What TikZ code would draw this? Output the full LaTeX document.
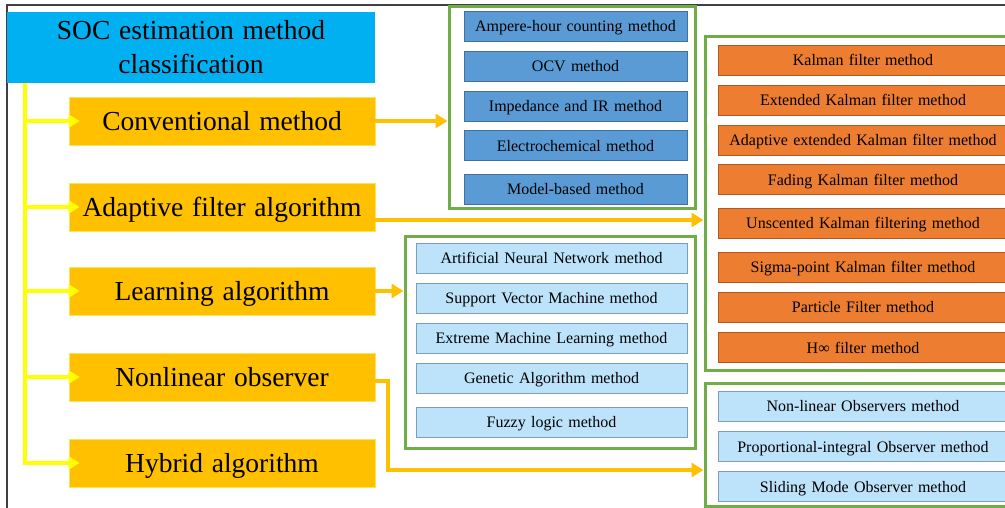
\documentclass[tikz,border=0pt]{standalone}
\usepackage{fontspec}
\setmainfont{Liberation Serif}
\usetikzlibrary{arrows.meta}
\definecolor{titleblue}{HTML}{00B0F0}
\definecolor{gold}{HTML}{FFC000}
\definecolor{goldedge}{HTML}{FFE060}
\definecolor{trunkyellow}{HTML}{FFFF00}
\definecolor{grn}{HTML}{70AD47}
\definecolor{midblue}{HTML}{5B9BD5}
\definecolor{midblueedge}{HTML}{41719C}
\definecolor{orng}{HTML}{ED7D31}
\definecolor{orngedge}{HTML}{AE5A21}
\definecolor{ltblue}{HTML}{BDE3FB}
\definecolor{ltblueedge}{HTML}{7F9DB9}
\definecolor{frame}{HTML}{404040}
\newcommand\mybigfont{\fontsize{27.5}{34}\selectfont\spaceskip=0.32em plus 0.1em minus 0.05em\relax}
\newcommand\mysmallfont{\fontsize{16}{18}\selectfont\spaceskip=0.33em plus 0.1em minus 0.05em\relax}
\tikzset{
  bigfont/.style={font=\mybigfont},
  smallfont/.style={font=\mysmallfont, text height=12.5pt, text depth=1pt},
  titlebox/.style={fill=titleblue, draw=none, inner sep=0pt, minimum width=368pt, minimum height=71pt, align=center, bigfont},
  catbox/.style={fill=gold, draw=goldedge, line width=0.8pt, inner sep=0pt, minimum width=306pt, minimum height=48pt, bigfont, text height=21pt, text depth=2pt},
  groupbox/.style={draw=grn, line width=3pt, fill=white, inner sep=0pt},
  bluebox/.style={fill=midblue, draw=midblueedge, line width=0.8pt, inner sep=0pt, minimum width=223pt, minimum height=30pt, smallfont},
  orngbox/.style={fill=orng, draw=orngedge, line width=0.8pt, inner sep=0pt, minimum width=290pt, minimum height=30pt, smallfont},
  ltbox/.style={fill=ltblue, draw=ltblueedge, line width=0.8pt, inner sep=0pt, minimum height=30pt, smallfont},
  yarrow/.style={draw=trunkyellow, line width=3.5pt, -{Triangle[length=11pt,width=13pt]}},
  oarrow/.style={draw=gold, line width=3.5pt, -{Triangle[length=12pt,width=14pt]}},
}
\begin{document}
\begin{tikzpicture}[x=1pt, y=-1pt]
\clip (0,0) rectangle (1005,508);
\fill[white] (0,0) rectangle (1005,508);
% frame
\draw[frame, line width=1.2pt] (7,508) -- (7,5) -- (1005,5);

% title
\node[titlebox] (title) at (191,47.5) {SOC estimation method\\classification};

% categories
\node[catbox] (conv)   at (222,121) {Conventional method};
\node[catbox] (adapt)  at (222,207) {Adaptive filter algorithm};
\node[catbox] (learn)  at (222,291) {Learning algorithm};
\node[catbox] (nonlin) at (222,377) {Nonlinear observer};
\node[catbox] (hybrid) at (222,463) {Hybrid algorithm};

% group 1: conventional
\node[groupbox, minimum width=246pt, minimum height=202pt] (g1) at (572,108) {};
\node[bluebox] (c1) at (575.5,26)  {Ampere-hour counting method};
\node[bluebox] (c2) at (575.5,66)  {OCV method};
\node[bluebox] (c3) at (575.5,106) {Impedance and IR method};
\node[bluebox] (c4) at (575.5,145.5) {Electrochemical method};
\node[bluebox] (c5) at (575.5,189) {Model-based method};

% group 2: adaptive filter
\node[groupbox, minimum width=310pt, minimum height=333pt] (g2) at (860,203.5) {};
\node[orngbox] (a1) at (863,60)    {Kalman filter method};
\node[orngbox] (a2) at (863,100)   {Extended Kalman filter method};
\node[orngbox] (a3) at (863,140)   {Adaptive extended Kalman filter method};
\node[orngbox] (a4) at (863,179.5) {Fading Kalman filter method};
\node[orngbox] (a5) at (863,223)   {Unscented Kalman filtering method};
\node[orngbox] (a6) at (863,267)   {Sigma-point Kalman filter method};
\node[orngbox] (a7) at (863,307)   {Particle Filter method};
\node[orngbox] (a8) at (863,347.5) {H∞ filter method};

% group 3: learning
\node[groupbox, minimum width=290pt, minimum height=211pt] (g3) at (550,342.5) {};
\node[ltbox, minimum width=271pt] (l1) at (551.5,258) {Artificial Neural Network method};
\node[ltbox, minimum width=271pt] (l2) at (551.5,298) {Support Vector Machine method};
\node[ltbox, minimum width=271pt] (l3) at (551.5,338) {Extreme Machine Learning method};
\node[ltbox, minimum width=271pt] (l4) at (551.5,378) {Genetic Algorithm method};
\node[ltbox, minimum width=271pt] (l5) at (551.5,422) {Fuzzy logic method};

% group 4: observers
\node[groupbox, minimum width=310pt, minimum height=123pt] (g4) at (860,444.5) {};
\node[ltbox, minimum width=290pt] (o1) at (863,406)   {Non-linear Observers method};
\node[ltbox, minimum width=290pt] (o2) at (863,446.5) {Proportional-integral Observer method};
\node[ltbox, minimum width=290pt] (o3) at (863,486.5) {Sliding Mode Observer method};

% yellow trunk and branches
\coordinate (trunk) at (25,83);
\draw[yarrow] (trunk) |- ([xshift=11pt]conv.west);
\draw[yarrow] (trunk) |- ([xshift=11pt]adapt.west);
\draw[yarrow] (trunk) |- ([xshift=11pt]learn.west);
\draw[yarrow] (trunk) |- ([xshift=11pt]nonlin.west);
\draw[yarrow] (trunk) |- ([xshift=11pt]hybrid.west);

% orange connectors
\draw[oarrow] (conv.east) -- (conv.east -| g1.west);
\coordinate (ay) at (0,220);
\draw[oarrow] (adapt.east |- ay) -- (g2.west |- ay);
\draw[oarrow] (learn.east) -- (learn.east -| g3.west);
\coordinate (ny) at (0,381);
\coordinate (nx) at (388,0);
\coordinate (hy) at (0,470);
\draw[oarrow] (nonlin.east |- ny) -- (nx |- ny) -- (nx |- hy) -- (g4.west |- hy);
\end{tikzpicture}
\end{document}
